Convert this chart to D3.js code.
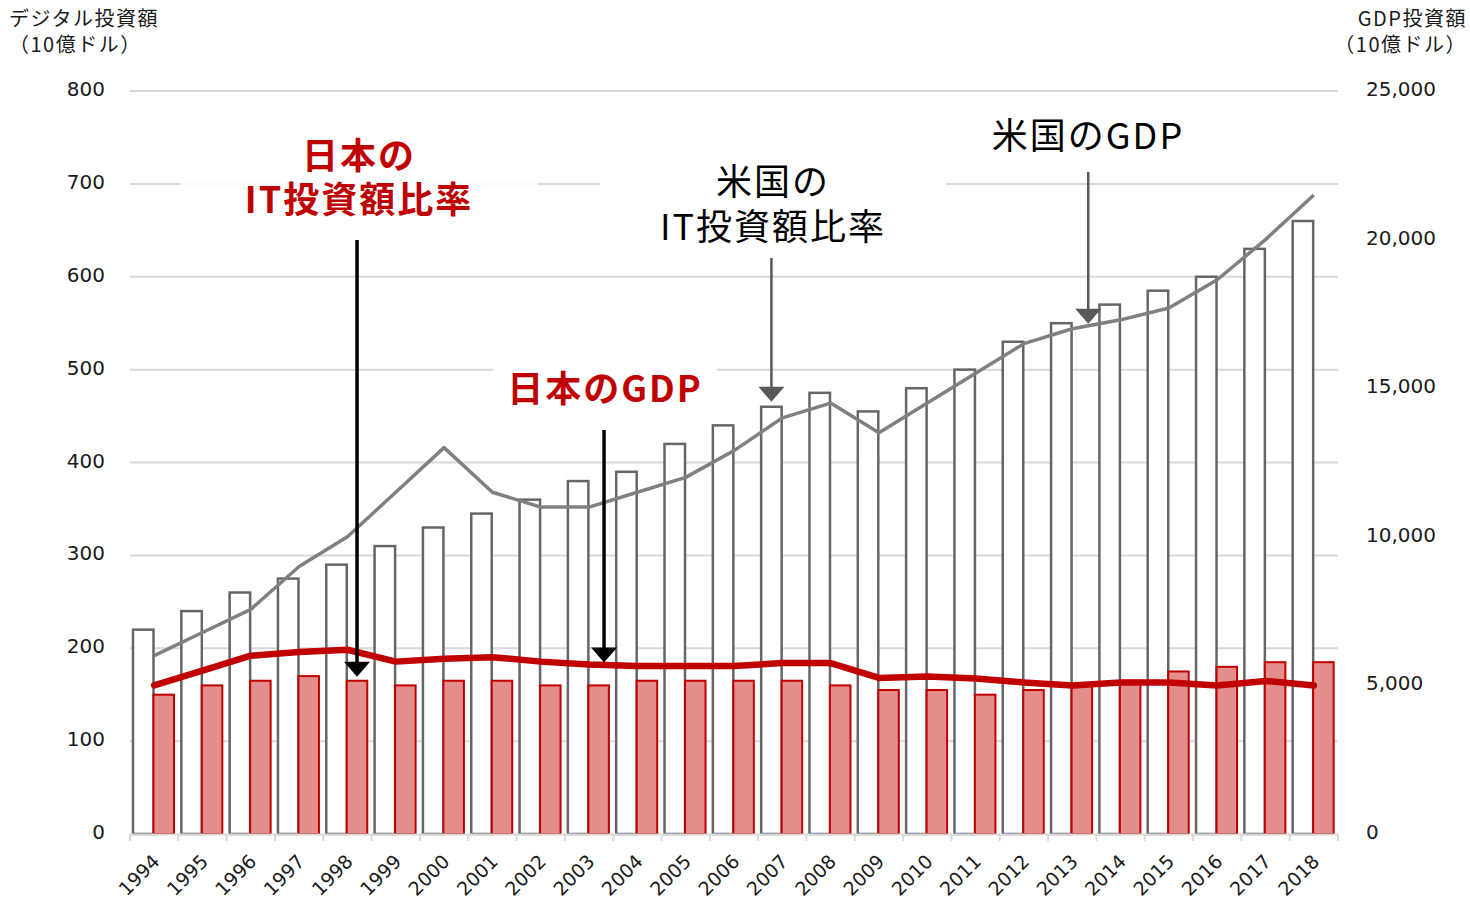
<!DOCTYPE html>
<html>
<head>
<meta charset="utf-8">
<script src="https://cdn.jsdelivr.net/npm/d3@7"></script>
<style>
  body { margin: 0; background: #fff; }
  svg text { font-family: Verdana, "DejaVu Sans", "Noto Sans CJK JP", sans-serif; }
  svg text.jp { font-family: "Noto Sans CJK JP", sans-serif; }
</style>
</head>
<body>
<svg id="chart" width="1470" height="903"></svg>
<script>
// data
var years = ['1994','1995','1996','1997','1998','1999','2000','2001','2002','2003','2004','2005','2006',
             '2007','2008','2009','2010','2011','2012','2013','2014','2015','2016','2017','2018']
// digital investment, 10 billion USD (left axis)
var usInvest = [220,240,260,275,290,310,330,345,360,380,390,420,440,460,475,455,480,500,530,550,570,585,600,630,660]
var jpInvest = [150,160,165,170,165,160,165,165,160,160,165,165,165,165,160,155,155,150,155,160,165,175,180,185,185]
// GDP, 10 billion USD (right axis)
var usGdp = [6000,6780,7560,9000,10000,11500,13000,11500,11000,11000,11500,12000,12900,14000,14500,13500,14500,
             15500,16500,17000,17300,17700,18650,20000,21500]
var jpGdp = [5000,5500,6000,6120,6200,5800,5900,5950,5800,5700,5650,5650,5650,5750,5750,5250,5300,
             5230,5100,5000,5100,5100,5000,5150,5000]
var leftTicks = [0,100,200,300,400,500,600,700,800]
var rightTicks = [0,5000,10000,15000,20000,25000]

var svg = d3.select('#chart')
var plotL = 130, plotR = 1338, plotT = 91, plotB = 834

var x = d3.scaleBand().domain(years).range([plotL, plotR])
var xs = d3.scaleBand().domain(['us','jp']).range([3, 44])
var yL = d3.scaleLinear().domain([0, 800]).range([plotB, plotT])
var yR = d3.scaleLinear().domain([0, 25000]).range([plotB, plotT])
var xc = function(y){ return x(y) + x.bandwidth()/2 }

// gridlines
svg.append('g').selectAll('line')
  .data(leftTicks.slice(1))
  .enter().append('line')
  .attr('x1', plotL).attr('x2', plotR)
  .attr('y1', d => yL(d)).attr('y2', d => yL(d))
  .attr('stroke', '#d9d9d9').attr('stroke-width', 2)

// left tick labels
svg.append('g').selectAll('text')
  .data(leftTicks)
  .enter().append('text')
  .attr('x', 105).attr('y', d => yL(d)).attr('dy', '0.25em')
  .attr('text-anchor', 'end')
  .attr('font-size', 20).attr('fill', '#1a1a1a')
  .text(d => d)

// right tick labels
svg.append('g').selectAll('text')
  .data(rightTicks)
  .enter().append('text')
  .attr('x', 1366).attr('y', d => yR(d)).attr('dy', '0.25em')
  .attr('font-size', 20).attr('fill', '#1a1a1a')
  .text(d => d3.format(',')(d))

// axis titles
var lt = svg.append('text').attr('class', 'jp').attr('font-size', 20).attr('fill', '#1a1a1a')
  .attr('letter-spacing', 1.5)
lt.append('tspan').attr('x', 9).attr('y', 26).text('デジタル投資額')
lt.append('tspan').attr('x', 9).attr('y', 52).text('（10億ドル）')
var rt = svg.append('text').attr('class', 'jp').attr('font-size', 20).attr('fill', '#1a1a1a')
  .attr('text-anchor', 'end').attr('letter-spacing', 1.5)
rt.append('tspan').attr('x', 1467).attr('y', 26).text('GDP投資額')
rt.append('tspan').attr('x', 1467).attr('y', 52).text('（10億ドル）')

// label boxes (drawn under the marks, over the gridlines)
var boxes = svg.append('g')

// bars
svg.append('g').selectAll('rect')
  .data(years)
  .enter().append('rect')
  .attr('x', d => x(d) + xs('us'))
  .attr('y', (d, i) => yL(usInvest[i]))
  .attr('width', xs.bandwidth())
  .attr('height', (d, i) => plotB - yL(usInvest[i]))
  .attr('fill', '#fff').attr('stroke', '#666666').attr('stroke-width', 2.5)

svg.append('g').selectAll('rect')
  .data(years)
  .enter().append('rect')
  .attr('x', d => x(d) + xs('jp'))
  .attr('y', (d, i) => yL(jpInvest[i]))
  .attr('width', xs.bandwidth())
  .attr('height', (d, i) => plotB - yL(jpInvest[i]))
  .attr('fill', '#e38d8d').attr('stroke', '#c00000').attr('stroke-width', 2)

// x axis
var xa = svg.append('g').attr('transform', `translate(0,${plotB})`)
  .call(d3.axisBottom(x).tickSize(0).tickFormat(''))
xa.select('.domain').attr('stroke', '#d9d9d9').attr('stroke-width', 2)
xa.selectAll('.tick').remove()
xa.selectAll('line.bd')
  .data(d3.range(years.length + 1))
  .enter().append('line')
  .attr('class', 'bd')
  .attr('x1', i => plotL + i * x.step()).attr('x2', i => plotL + i * x.step())
  .attr('y1', 0).attr('y2', 7)
  .attr('stroke', '#d9d9d9').attr('stroke-width', 2)

svg.append('g').selectAll('text')
  .data(years)
  .enter().append('text')
  .attr('transform', d => `translate(${xc(d) + 2},${plotB + 24}) rotate(-45)`)
  .attr('text-anchor', 'end').attr('dy', '0.35em')
  .attr('font-size', 19).attr('fill', '#1a1a1a')
  .text(d => d)

// lines
var line = function(vals){
  return d3.line().x((d, i) => xc(years[i])).y(d => yR(d))(vals)
}
svg.append('path').attr('d', line(usGdp))
  .attr('fill', 'none').attr('stroke', '#808080').attr('stroke-width', 3.5)
  .attr('stroke-linejoin', 'round')
svg.append('path').attr('d', line(jpGdp))
  .attr('fill', 'none').attr('stroke', '#c00000').attr('stroke-width', 6.5)
  .attr('stroke-linejoin', 'round').attr('stroke-linecap', 'round')

// annotations
function label(lines, cx, y0, lh, color, bold, padX, padY, boxOpacity){
  var t = svg.append('text').attr('class', 'jp')
    .attr('text-anchor', 'middle').attr('font-size', 36).attr('letter-spacing', 2)
    .attr('fill', color).attr('font-weight', bold ? 'bold' : 'normal')
  lines.forEach(function(s, i){
    t.append('tspan').attr('x', cx + 1).attr('y', y0 + i * lh).text(s)
  })
  var b = t.node().getBBox()
  boxes.append('rect')
    .attr('x', b.x - padX).attr('y', b.y - padY)
    .attr('width', b.width + 2 * padX).attr('height', b.height + 2 * padY)
    .attr('fill', '#fff').attr('opacity', boxOpacity)
}
function arrow(ax, y1, y2, color, w){
  svg.append('line').attr('x1', ax).attr('x2', ax).attr('y1', y1).attr('y2', y2 - 12)
    .attr('stroke', color).attr('stroke-width', w)
  svg.append('path')
    .attr('d', `M${ax - 13},${y2 - 15}L${ax + 13},${y2 - 15}L${ax},${y2}Z`)
    .attr('fill', color)
}

label(['日本の', 'IT投資額比率'], 358, 169, 44, '#c00000', true, 65, 8, 0.85)
label(['日本のGDP'], 604, 402, 0, '#c00000', true, 14, 6, 1)
label(['米国の', 'IT投資額比率'], 772, 195, 45, '#000', false, 60, 8, 1)
label(['米国のGDP'], 1087, 149, 0, '#000', false, 20, 6, 1)

var i98 = years.indexOf('1998'), i03 = years.indexOf('2003'), i07 = years.indexOf('2007'), i13 = years.indexOf('2013')
arrow(x('1998') + xs('jp') + xs.bandwidth()/2, 240, yL(jpInvest[i98]) - 4, '#000', 3.5)
arrow(xc('2003') + 15, 430, yR(jpGdp[i03]) - 2, '#000', 3.5)
arrow(x('2007') + xs('us') + xs.bandwidth()/2, 258, yL(usInvest[i07]) - 5, '#595959', 2.5)
arrow(xc('2013') + 16, 172, yR(usGdp[i13]) - 5, '#595959', 2.5)
</script>
</body>
</html>
